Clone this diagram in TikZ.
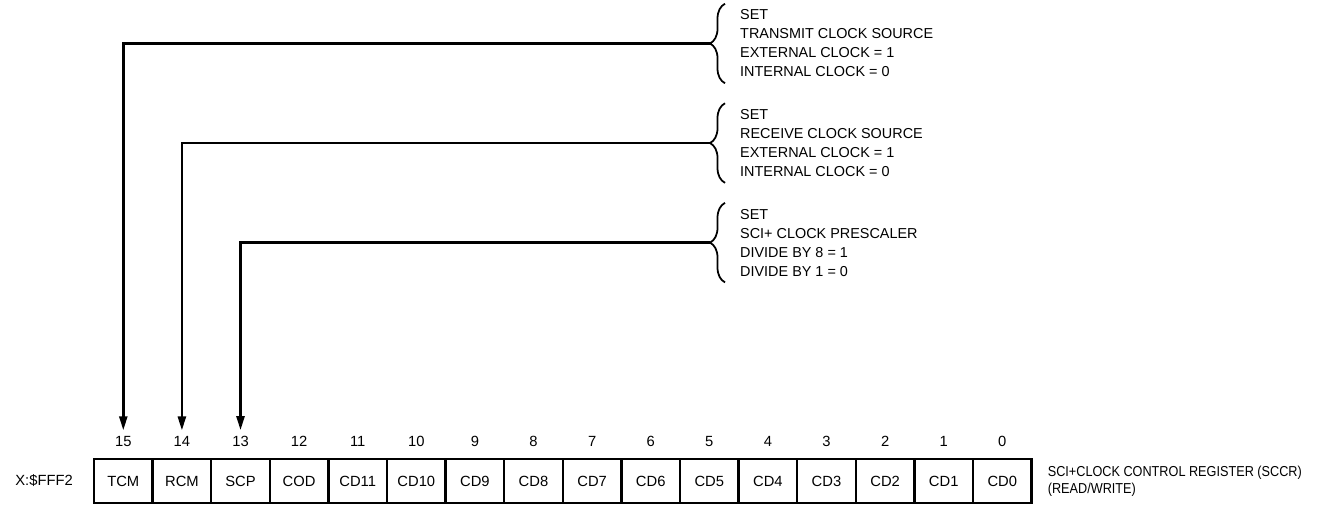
\documentclass[tikz,border=0pt]{standalone}
\usepackage{fontspec}
\setmainfont{Liberation Sans}
\newfontfamily\narrowfont[FakeStretch=0.88]{Liberation Sans}
\usepackage{tikz}
\usetikzlibrary{arrows.meta,positioning,decorations.pathreplacing}
\tikzset{
  regbit/.style={draw,line width=1.3pt,outer sep=0pt,inner sep=0pt,
    minimum width=1.172cm,minimum height=0.88cm,font=\fontsize{8.4}{10}\selectfont},
  bitnum/.style={font=\fontsize{8.4}{10}\selectfont,label distance=0.12cm},
  setnote/.style={align=left,anchor=west,font=\fontsize{8.2}{10.8}\selectfont},
  setbrace/.style={decorate,decoration={brace,amplitude=0.3cm},line width=1pt},
  flowarrow/.style={-{Triangle[length=2.8mm,width=1.6mm]},line width=1.4pt}
}

\begin{document}
\begin{tikzpicture}[node distance=0pt]
\useasboundingbox (0,0) rectangle (26.42,-10.22);

% register SCCR
\node[regbit,label={[bitnum,name=n15]above:15}] (b15) at (2.466,-9.62) {TCM};
\node[regbit,right=of b15,label={[bitnum,name=n14]above:14}] (b14) {RCM};
\node[regbit,right=of b14,label={[bitnum,name=n13]above:13}] (b13) {SCP};
\node[regbit,right=of b13,label={[bitnum,name=n12]above:12}] (b12) {COD};
\node[regbit,right=of b12,label={[bitnum,name=n11]above:11}] (b11) {CD11};
\node[regbit,right=of b11,label={[bitnum,name=n10]above:10}] (b10) {CD10};
\node[regbit,right=of b10,label={[bitnum,name=n9]above:9}] (b9) {CD9};
\node[regbit,right=of b9,label={[bitnum,name=n8]above:8}] (b8) {CD8};
\node[regbit,right=of b8,label={[bitnum,name=n7]above:7}] (b7) {CD7};
\node[regbit,right=of b7,label={[bitnum,name=n6]above:6}] (b6) {CD6};
\node[regbit,right=of b6,label={[bitnum,name=n5]above:5}] (b5) {CD5};
\node[regbit,right=of b5,label={[bitnum,name=n4]above:4}] (b4) {CD4};
\node[regbit,right=of b4,label={[bitnum,name=n3]above:3}] (b3) {CD3};
\node[regbit,right=of b3,label={[bitnum,name=n2]above:2}] (b2) {CD2};
\node[regbit,right=of b2,label={[bitnum,name=n1]above:1}] (b1) {CD1};
\node[regbit,right=of b1,label={[bitnum,name=n0]above:0}] (b0) {CD0};

\node[left=0.3cm of b15,font=\fontsize{8.4}{10}\selectfont] (addr) {X:\$FFF2};
\node[right=0.2cm of b0,align=left,font=\narrowfont\fontsize{8.2}{9.7}\selectfont] (sccr)
  {SCI+CLOCK CONTROL REGISTER (SCCR)\\(READ/WRITE)};

% bit descriptions
\node[setnote] (d15) at (14.68,-0.87) {SET\\TRANSMIT CLOCK SOURCE\\EXTERNAL CLOCK = 1\\INTERNAL CLOCK = 0};
\node[setnote,below=0.4cm of d15.south west,anchor=north west] (d14) {SET\\RECEIVE CLOCK SOURCE\\EXTERNAL CLOCK = 1\\INTERNAL CLOCK = 0};
\node[setnote,below=0.4cm of d14.south west,anchor=north west] (d13) {SET\\SCI+ CLOCK PRESCALER\\DIVIDE BY 8 = 1\\DIVIDE BY 1 = 0};

\draw[setbrace] ([xshift=-1.8mm]d15.south west) -- ([xshift=-1.8mm]d15.north west);
\draw[setbrace] ([xshift=-1.8mm]d14.south west) -- ([xshift=-1.8mm]d14.north west);
\draw[setbrace] ([xshift=-1.8mm]d13.south west) -- ([xshift=-1.8mm]d13.north west);
\coordinate (t15) at ([xshift=-4.8mm]d15.west);
\coordinate (t14) at ([xshift=-4.8mm]d14.west);
\coordinate (t13) at ([xshift=-4.8mm]d13.west);

\draw[flowarrow] (t15) -| (n15);
\draw[flowarrow] (t14) -| (n14);
\draw[flowarrow] (t13) -| (n13);
\end{tikzpicture}
\end{document}
